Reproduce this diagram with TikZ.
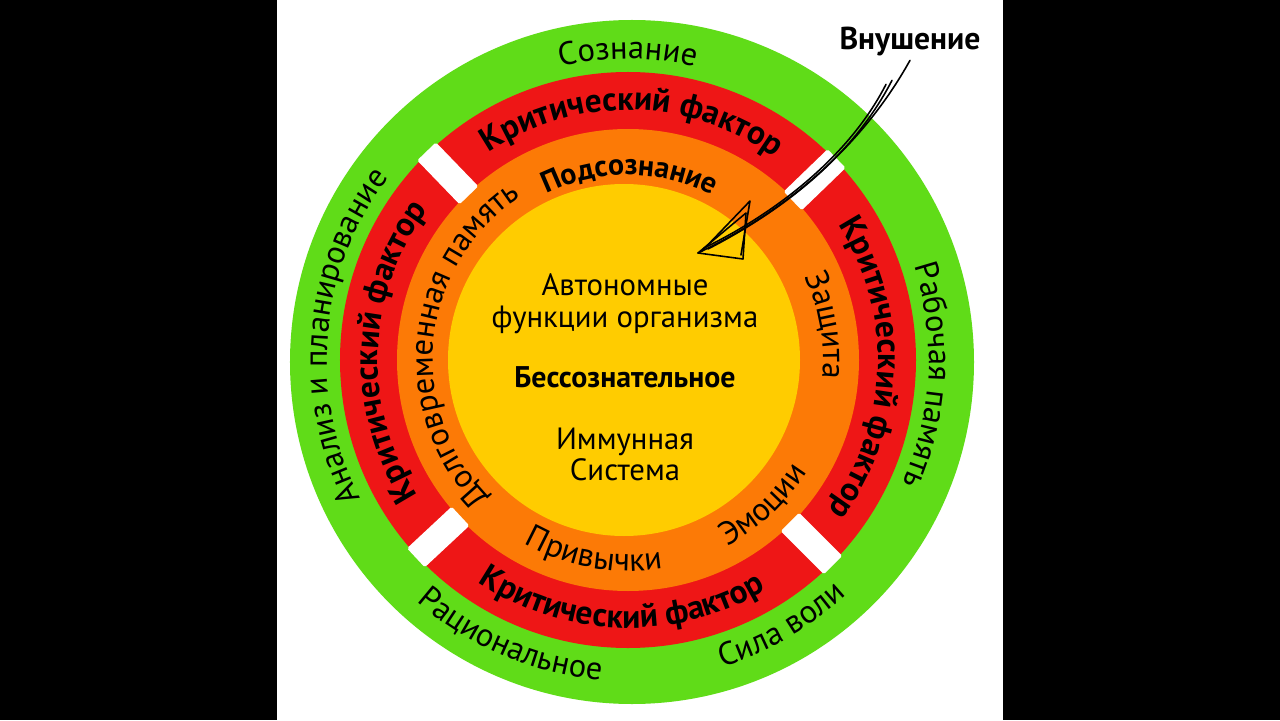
\documentclass[tikz,border=0pt]{standalone}
\usepackage{fontspec}
\setmainfont{PT Sans}
\usetikzlibrary{decorations.text}
\definecolor{ring-green}{RGB}{96,220,24}
\definecolor{ring-red}{RGB}{238,22,22}
\definecolor{ring-orange}{RGB}{252,122,6}
\definecolor{ring-yellow}{RGB}{255,204,0}
\newcommand\greenfont{\fontsize{18.5}{20}\selectfont}
\newcommand\redfont{\bfseries\fontsize{19}{21}\selectfont}
\newcommand\orangefont{\fontsize{18.5}{20}\selectfont}
% text on an arc: radius, start angle, end angle, format, text
\newcommand\ringlabel[5]{%
  \path[decorate, decoration={text along path, text align=center, text={|#4|#5}}]
    (#2:#1) arc[start angle=#2, end angle=#3, radius=#1];}
\tikzset{
  core-label/.style={align=center, font=\fontsize{17.5}{21}\selectfont, inner sep=2pt},
  sketch-stroke/.style={draw=black, line width=0.9pt, line cap=round, line join=round}
}

\begin{document}
\begin{tikzpicture}[x=0.02cm, y=0.02cm]
  \fill[black] (-628,-360) rectangle (652,360);
  \fill[white] (-351,-360) rectangle (375,360);
  \useasboundingbox (-628,-360) rectangle (652,360);
  % rings
  \fill[ring-green] (4,-2) circle[radius=342];
  \fill[ring-red] (0,0) circle[radius=288];
  \fill[ring-orange] (0,0) circle[radius=231];
  \fill[ring-yellow] (-4,0) circle[radius=176];
  \foreach \a in {44,134,223,315}
    \fill[white, rounded corners=1pt, rotate=\a] (229,-13) rectangle (290,13);
  % green ring
  \ringlabel{301}{120}{60}{\greenfont}{Сознание}
  \ringlabel{301}{215}{135}{\greenfont}{Анализ и планирование}
  \ringlabel{301}{37}{-43}{\greenfont}{Рабочая память}
  \ringlabel{321}{207}{287}{\greenfont}{Рациональное}
  \ringlabel{321}{260}{340}{\greenfont}{Сила воли}
  % red ring
  \ringlabel{250}{144}{34}{\redfont}{Критический фактор}
  \ringlabel{250}{233}{123}{\redfont}{Критический фактор}
  \ringlabel{250}{53}{-57}{\redfont}{Критический фактор}
  \ringlabel{268}{213}{324}{\redfont}{Критический фактор}
  % orange ring
  \ringlabel{185}{140}{39}{\bfseries\fontsize{17}{19}\selectfont}{Подсознание}
  \ringlabel{195}{235}{113}{\orangefont}{Долговременная память}
  \ringlabel{195}{45}{-25}{\orangefont}{Защита}
  \ringlabel{211}{282}{344}{\orangefont}{Эмоции}
  \ringlabel{211}{225}{295}{\orangefont}{Привычки}
  % core
  \node[core-label] (auto) at (-3,75) {Автономные};
  \node[core-label] (func) at (-3,40) {функции организма};
  \node[core-label, font=\bfseries\fontsize{17}{20}\selectfont] (uncon) at (-3,-17) {Бессознательное};
  \node[core-label] (immun) at (-3,-82) {Иммунная};
  \node[core-label] (sys) at (-3,-110) {Система};
  % suggestion arrow
  \node[core-label, font=\bfseries\fontsize{18}{21}\selectfont] (vnush) at (282,318) {Внушение};
  \coordinate (tip) at (70,107);
  \coordinate (head-top) at (118,147);
  \coordinate (head-bot) at (115,101);
  \draw[sketch-stroke] (vnush.south) .. controls (235,215) and (160,150) .. (tip);
  \draw[sketch-stroke] ([shift={(-18,-20)}]vnush.south) .. controls (228,210) and (165,155) .. ([shift={(10,4)}]tip);
  \draw[sketch-stroke] ([shift={(-24,-24)}]vnush.south) .. controls (222,205) and (150,148) .. ([shift={(6,5)}]tip);
  \draw[sketch-stroke] (tip) -- (head-top) -- (head-bot) -- cycle;
  \draw[sketch-stroke] ([shift={(4,2)}]tip) -- ([shift={(4,12)}]head-top) -- ([shift={(-2,4)}]head-bot);
\end{tikzpicture}
\end{document}
